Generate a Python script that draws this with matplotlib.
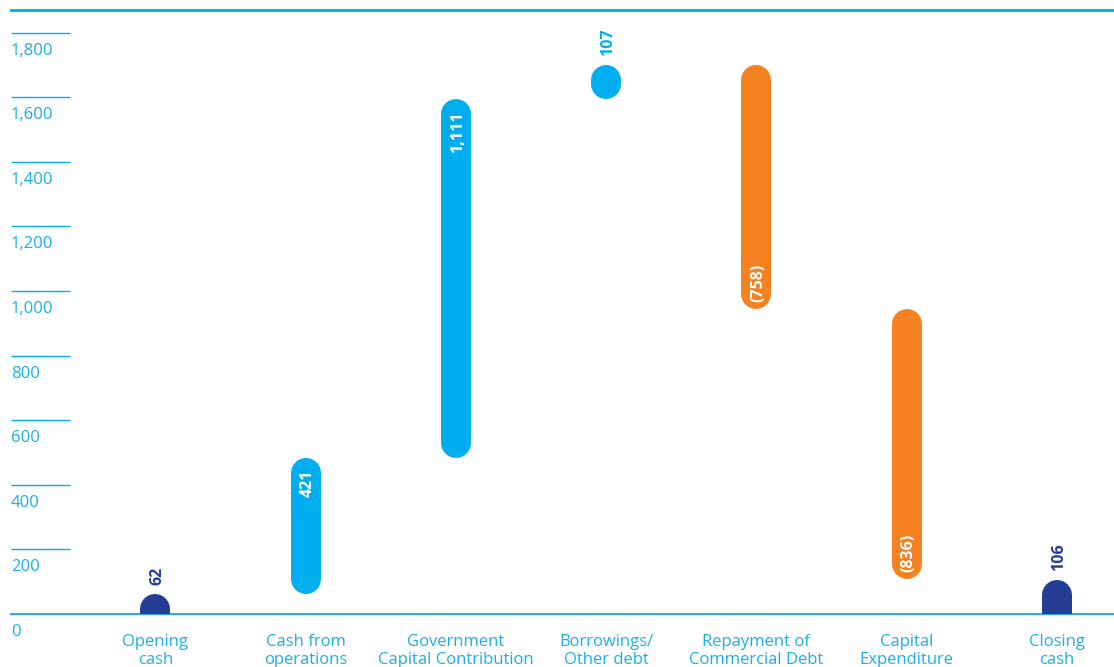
import matplotlib
matplotlib.use("Agg")
import matplotlib.pyplot as plt

categories = ["Opening\ncash", "Cash from\noperations", "Government\nCapital Contribution",
              "Borrowings/\nOther debt", "Repayment of\nCommercial Debt", "Capital\nExpenditure",
              "Closing\ncash"]
values = [62, 421, 1111, 107, -758, -836, 106]
kinds = ["total", "delta", "delta", "delta", "delta", "delta", "total"]
labels = ["62", "421", "1,111", "107", "(758)", "(836)", "106"]
yticks = [0, 200, 400, 600, 800, 1000, 1200, 1400, 1600, 1800]
ytick_labels = ["0", "200", "400", "600", "800", "1,000", "1,200", "1,400", "1,600", "1,800"]

LIGHT = "#00AEEF"
NAVY = "#253C94"
ORANGE = "#F58220"
TEXT = "#1AAFEC"

plt.rcParams['font.family'] = ['Open Sans', 'DejaVu Sans']

W, H, DPI = 1114, 667, 100
fig = plt.figure(figsize=(W / DPI, H / DPI), dpi=DPI)
ax_left_px, ax_right_px, ax_bottom_px, ax_top_px = 11, 1114, 614, 10
ax = fig.add_axes([ax_left_px / W, (H - ax_bottom_px) / H,
                   (ax_right_px - ax_left_px) / W, (ax_bottom_px - ax_top_px) / H])
ymax = 1870
ax.set_ylim(0, ymax)
ax.set_xlim(-0.96, 6.38)
ax.axis("off")

px_per_unit = (ax_bottom_px - ax_top_px) / ymax
bar_px = 30
r = (bar_px / 2) / px_per_unit  # cap radius in data units
lw_pt = bar_px * 72 / DPI

# grid: short tick lines, top line, baseline
for yt, lab in zip(yticks, ytick_labels):
    if yt == 0:
        ax.axhline(0, color=LIGHT, lw=1.3, clip_on=False)
    else:
        ax.plot([-0.96, -0.567], [yt, yt], color=LIGHT, lw=1.0, clip_on=False, solid_capstyle="butt")
    ax.annotate(lab, xy=(-0.96, yt), xytext=(0, -10), textcoords="offset pixels",
                ha="left", va="top", color=TEXT, fontsize=12, annotation_clip=False)
ax.axhline(ymax, color=LIGHT, lw=2.0, clip_on=False)

running = 0
for i, (v, k, lab, cat) in enumerate(zip(values, kinds, labels, categories)):
    if k == "total":
        lo, hi = 0, v
        color = NAVY
        running = v
        y0 = -r  # flat bottom via clipping at baseline
        y1 = hi - r
    else:
        lo, hi = sorted([running, running + v])
        running += v
        color = LIGHT if v > 0 else ORANGE
        y0 = lo + r
        y1 = hi - r
        if y1 < y0:
            m = (lo + hi) / 2
            y0 = y1 = m
    ax.plot([i, i], [y0, y1], color=color, lw=lw_pt, solid_capstyle="round", clip_on=True)

    small = (hi - lo) * px_per_unit < 60
    if small:
        ax.annotate(lab, xy=(i, hi), xytext=(2, 9), textcoords="offset pixels",
                    rotation=90, ha="center", va="bottom", color=color,
                    fontsize=11.5, fontweight="bold")
    elif v > 0:
        ax.annotate(lab, xy=(i, hi), xytext=(2, -12), textcoords="offset pixels",
                    rotation=90, ha="center", va="top", color="white",
                    fontsize=11.5, fontweight="bold")
    else:
        ax.annotate(lab, xy=(i, lo), xytext=(2, 7), textcoords="offset pixels",
                    rotation=90, ha="center", va="bottom", color="white",
                    fontsize=11.5, fontweight="bold")

    ax.annotate(cat, xy=(i, 0), xytext=(0, -20), textcoords="offset pixels",
                ha="center", va="top", color=TEXT, fontsize=12, linespacing=1.2,
                annotation_clip=False)

fig.savefig("out.png", dpi=DPI)
